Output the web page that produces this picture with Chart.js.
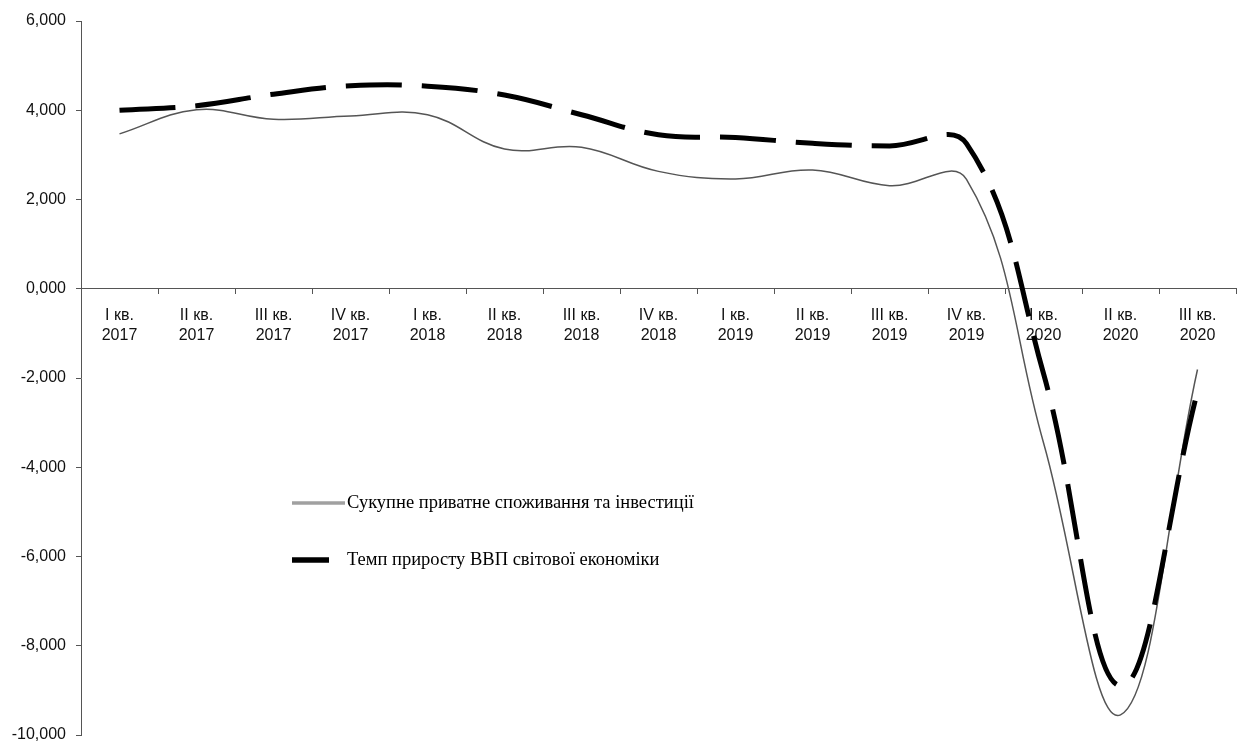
<!DOCTYPE html>
<html>
<head>
<meta charset="utf-8">
<script src="https://cdn.jsdelivr.net/npm/chart.js@4/dist/chart.umd.min.js"></script>
<style>
  html, body { margin: 0; padding: 0; background: #fff; }
  #wrap { width: 1242px; height: 745px; }
</style>
</head>
<body>
<div id="wrap"><canvas id="chart" width="1242" height="745"></canvas></div>
<script>
// Quarter labels (two lines each: quarter / year)
const quarters = ['I кв.', 'II кв.', 'III кв.', 'IV кв.', 'I кв.', 'II кв.', 'III кв.', 'IV кв.',
                  'I кв.', 'II кв.', 'III кв.', 'IV кв.', 'I кв.', 'II кв.', 'III кв.'];
const years = ['2017', '2017', '2017', '2017', '2018', '2018', '2018', '2018',
               '2019', '2019', '2019', '2019', '2020', '2020', '2020'];

// Series values, %
const consumptionInvestment = [3.47, 4.01, 3.80, 3.87, 3.90, 3.13, 3.17, 2.63, 2.46, 2.66, 2.31, 2.45, -3.45, -9.55, -1.81];
const worldGdpGrowth = [4.00, 4.10, 4.36, 4.55, 4.54, 4.34, 3.90, 3.45, 3.39, 3.26, 3.20, 3.25, -1.90, -8.90, -2.30];

// Y axis tick values
const yTicks = [-10, -8, -6, -4, -2, 0, 2, 4, 6];

const seriesNames = [
  'Сукупне приватне споживання та інвестиції',
  'Темп приросту ВВП світової економіки'
];

const categories = quarters.map((q, i) => [q, years[i]]);

// Legend drawn inside the plot area
const inlineLegend = {
  id: 'inlineLegend',
  afterDatasetsDraw(chart, args, opts) {
    const ctx = chart.ctx;
    ctx.save();
    ctx.font = opts.font;
    ctx.textBaseline = 'middle';
    ctx.textAlign = 'left';
    chart.data.datasets.forEach((ds, i) => {
      const y = opts.y + i * opts.spacing;
      ctx.beginPath();
      ctx.setLineDash([]);
      ctx.lineCap = 'butt';
      ctx.strokeStyle = ds.legendColor;
      ctx.lineWidth = ds.legendWidth;
      ctx.moveTo(opts.x, y);
      ctx.lineTo(opts.x + ds.legendLength, y);
      ctx.stroke();
      ctx.fillStyle = '#000';
      ctx.fillText(ds.label, opts.textX, y);
    });
    ctx.restore();
  }
};

new Chart(document.getElementById('chart'), {
  type: 'line',
  data: {
    labels: categories,
    datasets: [
      {
        label: seriesNames[0],
        data: consumptionInvestment,
        borderColor: '#555555',
        borderWidth: 1.5,
        tension: 0.4,
        pointRadius: 0,
        fill: false,
        order: 1,
        legendColor: '#a0a0a0',
        legendWidth: 3.5,
        legendLength: 53
      },
      {
        label: seriesNames[1],
        data: worldGdpGrowth,
        borderColor: '#000000',
        borderWidth: 5,
        borderDash: [56, 20],
        tension: 0.4,
        pointRadius: 0,
        fill: false,
        order: 0,
        legendColor: '#000000',
        legendWidth: 5.5,
        legendLength: 37
      }
    ]
  },
  options: {
    responsive: false,
    animation: false,
    layout: { padding: { top: 21, right: 6, bottom: 10, left: 0 } },
    plugins: {
      legend: { display: false },
      tooltip: { enabled: false },
      inlineLegend: {
        x: 292,
        textX: 347,
        y: 503,
        spacing: 57,
        font: '18.5px "Liberation Serif", "Times New Roman", serif'
      }
    },
    scales: {
      x: {
        type: 'category',
        position: { y: 0 },
        offset: true,
        grid: {
          offset: true,
          drawOnChartArea: false,
          drawTicks: true,
          tickLength: 5,
          color: '#555555'
        },
        border: { display: true, color: '#555555', width: 1 },
        ticks: {
          autoSkip: false,
          maxRotation: 0,
          minRotation: 0,
          padding: 11,
          color: '#111',
          font: { family: '"Liberation Sans", Arial, sans-serif', size: 16, lineHeight: 1.3 }
        }
      },
      y: {
        min: -10,
        max: 6,
        afterBuildTicks(scale) {
          scale.ticks = yTicks.map(v => ({ value: v }));
        },
        afterFit(scale) {
          scale.width = 81;
          // the layout padding alone sets the plot's top and bottom edges
          scale.paddingTop = 0;
          scale.paddingBottom = 0;
        },
        grid: {
          drawOnChartArea: false,
          drawTicks: true,
          tickLength: 5,
          color: '#555555'
        },
        border: { display: true, color: '#555555', width: 1 },
        ticks: {
          padding: 10,
          color: '#111',
          font: { family: '"Liberation Sans", Arial, sans-serif', size: 16 },
          callback: v => v.toFixed(3).replace('.', ',')
        }
      }
    }
  },
  plugins: [inlineLegend]
});
</script>
</body>
</html>
